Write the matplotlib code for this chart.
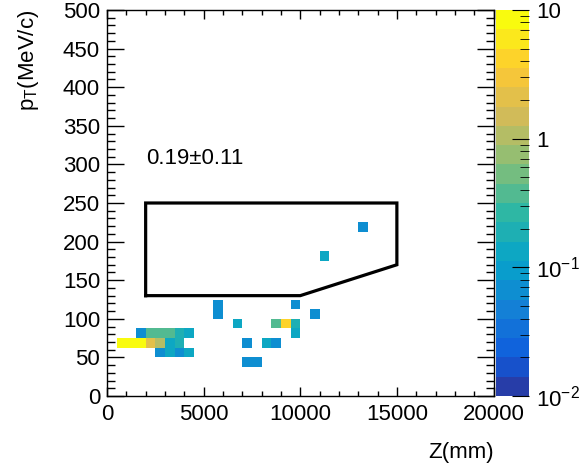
import numpy as np
import matplotlib
matplotlib.use('Agg')
import matplotlib.pyplot as plt
from matplotlib.colors import LinearSegmentedColormap, ListedColormap, LogNorm
from matplotlib.ticker import MultipleLocator, FixedLocator, FixedFormatter, LogLocator, NullFormatter

plt.rcParams['font.family'] = ['Liberation Sans', 'DejaVu Sans']
plt.rcParams['mathtext.default'] = 'regular'

# histogram contents (bin centres, weights)
z_mm = [750, 1250, 1750, 2250, 2750, 3250, 3750,
        1750, 2250, 2750, 3250, 3750, 4250,
        2750, 3250, 3750, 4250,
        5750, 5750, 6750, 7250, 7250, 7750, 8250, 8750,
        8750, 9250, 9750, 9750, 9750, 10750, 11250, 13250]
pt_mev = [68.75, 68.75, 68.75, 68.75, 68.75, 68.75, 68.75,
          81.25, 81.25, 81.25, 81.25, 81.25, 81.25,
          56.25, 56.25, 56.25, 56.25,
          106.25, 118.75, 93.75, 68.75, 43.75, 43.75, 68.75, 68.75,
          93.75, 93.75, 93.75, 81.25, 118.75, 106.25, 181.25, 218.75]
weight = [8.0, 8.0, 8.0, 2.1, 1.0, 0.13, 0.2,
          0.065, 0.38, 0.38, 0.38, 0.2, 0.13,
          0.065, 0.13, 0.065, 0.13,
          0.065, 0.065, 0.13, 0.065, 0.065, 0.065, 0.13, 0.065,
          0.38, 4.2, 0.2, 0.13, 0.065, 0.065, 0.13, 0.065]

# signal region
cut_z = [2000, 2000, 15000, 15000, 10000, 2000]
cut_pt = [130, 250, 250, 170, 130, 130]
label = '0.19\u00b10.11'

# ROOT kBird palette, 20 contour levels
stops = [0.0, 0.125, 0.25, 0.375, 0.5, 0.625, 0.75, 0.875, 1.0]
red = [0.2082, 0.0592, 0.0780, 0.0232, 0.1802, 0.5301, 0.8186, 0.9956, 0.9764]
green = [0.1664, 0.3599, 0.5041, 0.6419, 0.7178, 0.7492, 0.7328, 0.7862, 0.9832]
blue = [0.5293, 0.8684, 0.8385, 0.7914, 0.6425, 0.4662, 0.3499, 0.1968, 0.0539]
bird = LinearSegmentedColormap.from_list('bird', list(zip(stops, zip(red, green, blue))), N=255)
ndiv = 20
cols = [bird(int((i + 0.99) * 255 / ndiv) / 254) for i in range(ndiv)]
cmap = ListedColormap(cols)
norm = LogNorm(0.01, 10)

xedges = np.arange(0, 20001, 500)
yedges = np.arange(0, 500.1, 12.5)
h, _, _ = np.histogram2d(z_mm, pt_mev, bins=[xedges, yedges], weights=weight)
h = np.ma.masked_where(h <= 0, h)

fig = plt.figure(figsize=(5.79, 4.67), dpi=100)
ax = fig.add_axes([107/579, 1 - 396/467, 386.5/579, 386/467])
cax = fig.add_axes([496/579, 1 - 396/467, 33/579, 386/467])

mesh = ax.pcolormesh(xedges, yedges, h.T, cmap=cmap, norm=norm)
ax.plot(cut_z, cut_pt, color='black', lw=2.3, solid_joinstyle='miter')
ax.text(2000, 308, label, fontsize=16, va='center', ha='left')

ax.set_xlim(0, 20000)
ax.set_ylim(0, 500)
ax.xaxis.set_major_locator(MultipleLocator(5000))
ax.xaxis.set_minor_locator(MultipleLocator(1000))
ax.yaxis.set_major_locator(MultipleLocator(50))
ax.yaxis.set_minor_locator(MultipleLocator(10))
ax.tick_params(axis='both', which='both', direction='in', top=True, right=True, labelsize=16, width=1)
ax.tick_params(axis='x', which='major', length=6.5, pad=6)
ax.tick_params(axis='x', which='minor', length=3.3)
ax.tick_params(axis='y', which='major', length=12.5, pad=5)
ax.tick_params(axis='y', which='minor', length=6)
for s in ax.spines.values():
    s.set_linewidth(1)

ax.set_xlabel('Z(mm)', fontsize=16, loc='right', labelpad=12)
ax.set_ylabel(r'p$_{T}$(MeV/c)', fontsize=16, loc='top', labelpad=16)

cb = fig.colorbar(mesh, cax=cax)
cb.outline.set_visible(False)
cax.yaxis.set_major_locator(FixedLocator([0.01, 0.1, 1, 10]))
cax.yaxis.set_major_formatter(FixedFormatter([r'$10^{-2}$', r'$10^{-1}$', '1', '10']))
cax.yaxis.set_minor_locator(LogLocator(base=10, subs=np.arange(2, 10)))
cax.yaxis.set_minor_formatter(NullFormatter())
cax.tick_params(axis='y', which='both', direction='in', right=True, left=False, labelsize=16, pad=5)
cax.tick_params(axis='y', which='major', length=12)
cax.tick_params(axis='y', which='minor', length=6.5)

fig.savefig('out.png', dpi=100)
